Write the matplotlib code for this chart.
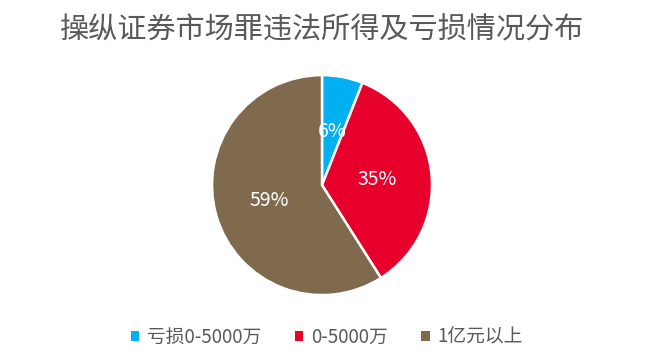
import matplotlib
matplotlib.use("Agg")
import matplotlib.pyplot as plt
from matplotlib.patches import Patch

plt.rcParams['font.family'] = ['Noto Sans CJK SC', 'DejaVu Sans']

title = "操纵证券市场罪违法所得及亏损情况分布"
categories = ["亏损0-5000万", "0-5000万", "1亿元以上"]
values = [6, 35, 59]
colors = ["#00B0F0", "#E8002D", "#7F6A4E"]

fig = plt.figure(figsize=(6.47, 3.58), dpi=100)
fig.patch.set_facecolor("white")

ax = fig.add_axes([0.4977 - 0.17, 0.483 - 0.3073, 0.34, 0.6145])
wedges, texts, autotexts = ax.pie(
    values, colors=colors, startangle=90, counterclock=False,
    autopct=lambda p: f"{p:.0f}%", pctdistance=0.5,
    wedgeprops=dict(edgecolor="white", linewidth=1.8),
    textprops=dict(color="white", fontsize=14),
)
ax.set_xlim(-1.0, 1.0)
ax.set_ylim(-1.0, 1.0)
ax.set_aspect("equal")
ax.axis("off")

fig.text(0.4977, 0.915, title, ha="center", va="center", fontsize=21, color="#595959")

handles = [Patch(facecolor=c, edgecolor="none") for c in colors]
fig.legend(handles, categories, loc="center", bbox_to_anchor=(0.505, 0.058), ncol=3,
           frameon=False, fontsize=13.5, labelcolor="#595959",
           handlelength=0.45, handleheight=0.45, handletextpad=0.4, columnspacing=1.8)

fig.savefig("out.png", dpi=100, facecolor="white")
